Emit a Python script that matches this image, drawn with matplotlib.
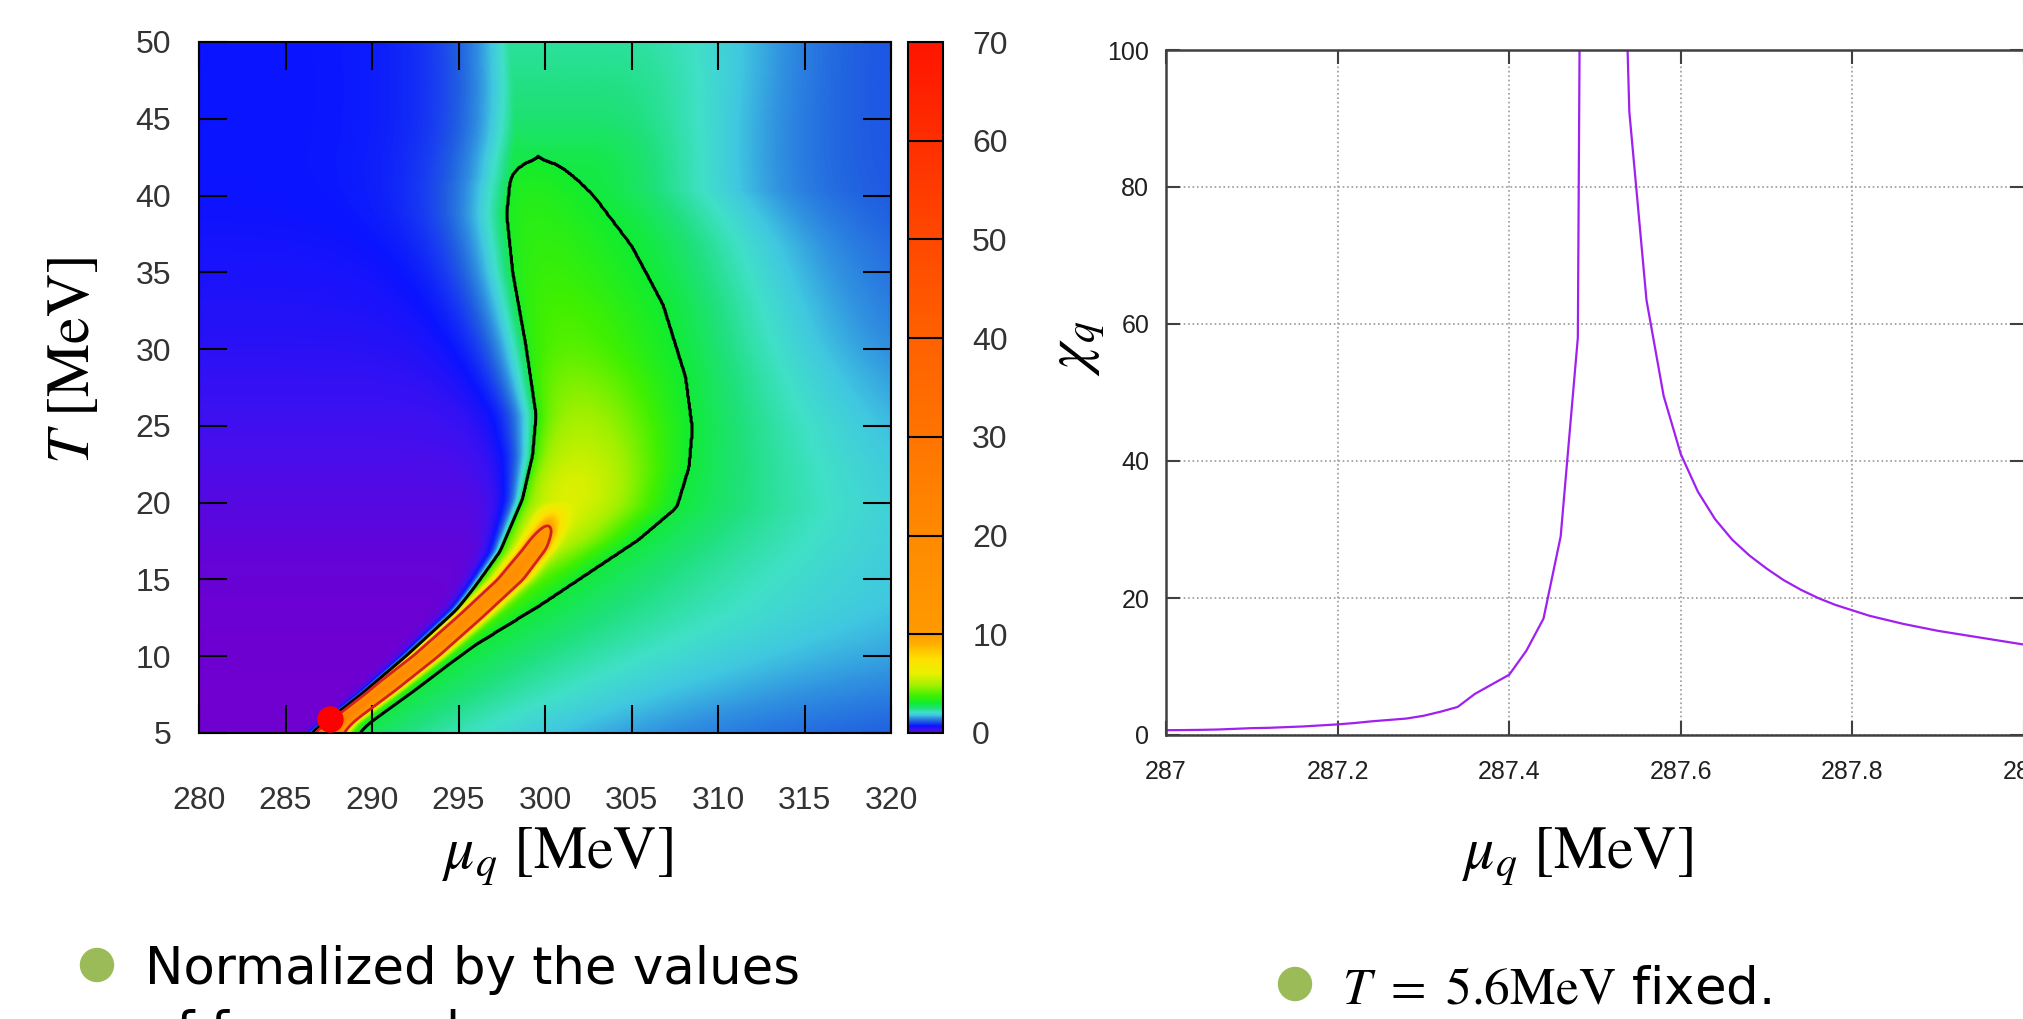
import numpy as np
import matplotlib
matplotlib.use('Agg')
import matplotlib.pyplot as plt
from matplotlib.colors import LinearSegmentedColormap, Normalize
from matplotlib.patches import Ellipse

plt.rcParams['mathtext.fontset'] = 'stix'
plt.rcParams['font.family'] = ['DejaVu Sans']

W, H = 2023, 1019

# ---------------- left panel data ----------------
# black contour (chi = 3 region): left and right boundary, mu vs T
left_edge_T = [5.0, 5.8, 7.5, 10.0, 13.0, 16.8, 20.2, 23.1, 25.7, 30.3, 35.0, 38.8, 40.9, 41.5, 42.0, 42.3, 42.4, 44.0, 47.0, 50.0]
left_edge_mu = [286.8, 287.7, 289.6, 292.1, 295.0, 297.4, 298.7, 299.3, 299.5, 298.9, 298.15, 297.8, 297.98, 298.2, 298.7, 299.2, 299.65, 299.2, 298.6, 298.0]
right_edge_T = [5.0, 9.6, 13.4, 17.6, 19.7, 22.3, 24.8, 28.2, 32.9, 36.7, 40.0, 41.0, 41.9, 42.2, 42.4, 44.0, 47.0, 50.0]
right_edge_mu = [288.5, 294.3, 299.8, 305.4, 307.6, 308.3, 308.5, 308.1, 306.8, 305.0, 302.8, 301.9, 300.9, 300.3, 299.65, 299.2, 298.6, 298.0]
inside_level = 3.05
contour_level = 2.97

# cyan-green plateau around and above the tip of the contour
plateau_left_T = [5, 38, 40, 44, 47, 50]
plateau_left_mu = [320, 320, 298.0, 298.3, 298.2, 297.9]
plateau_right_T = [5, 38, 40, 42.4, 45, 50]
plateau_right_mu = [280, 280, 302.5, 302.3, 302.8, 303.5]

# value just outside the black contour
edge_T = [5, 38, 40, 42.4, 45, 50]
edge_val = [2.965, 2.965, 2.92, 2.85, 2.6, 2.35]

# broad hump inside the black contour
hump_T = [5, 10, 15, 18, 21, 25, 30, 35, 40, 42.4, 50]
hump_val = [0.5, 0.8, 1.4, 2.6, 2.8, 1.9, 1.0, 0.6, 0.3, 0.0, 0.0]

# narrow orange ridge (red contour)
ridge_T = [5.0, 5.6, 6.0, 7.8, 10.0, 12.5, 15.0, 17.0, 18.4, 20.0]
ridge_mu = [287.4, 287.9, 288.4, 290.6, 293.1, 295.6, 298.0, 299.4, 300.1, 300.6]
ridge_h = [30, 25, 20, 17, 15, 14, 13, 9.5, 4.6, 0.0]
ridge_w = 0.8

# background levels and decay widths
bgL_T = [5, 15, 20, 25, 30, 35, 40, 50]
bgL_val = [0.0, 0.05, 0.2, 0.35, 0.5, 0.6, 0.7, 0.7]
wl_T = [5, 10, 15, 20, 25, 30, 40, 50]
wl_val = [0.15, 0.2, 0.3, 0.6, 1.2, 1.8, 2.5, 2.5]
bgR_T = [5, 10, 15, 20, 30, 40, 50]
bgR_val = [1.0, 1.3, 1.4, 1.3, 1.1, 1.1, 1.1]
wr_T = [5, 10, 15, 20, 30, 40, 50]
wr_val = [12, 17, 15, 12, 8, 9, 10]
q_T = [5, 25, 35, 42, 50]
q_val = [1.0, 1.0, 1.4, 1.9, 2.4]

# critical point
cep_mu, cep_T = 287.6, 5.9

# ---------------- right panel data ----------------
mu_cut = [287.00, 287.02, 287.04, 287.06, 287.08, 287.10, 287.12, 287.14, 287.16, 287.18,
          287.20, 287.22, 287.24, 287.26, 287.28, 287.30, 287.32, 287.34, 287.36, 287.38,
          287.40, 287.42, 287.44, 287.46, 287.48, 287.50, 287.52, 287.54, 287.56, 287.58,
          287.60, 287.62, 287.64, 287.66, 287.68, 287.70, 287.72, 287.74, 287.76, 287.78,
          287.80, 287.82, 287.84, 287.86, 287.88, 287.90, 287.92, 287.94, 287.96, 287.98, 288.00]
chi_cut = [0.7, 0.72, 0.75, 0.8, 0.9, 1.0, 1.05, 1.15, 1.25, 1.4,
           1.55, 1.75, 2.0, 2.2, 2.4, 2.8, 3.4, 4.1, 6.0, 7.4,
           8.8, 12.3, 17.0, 29.0, 58.0, 480.0, 180.0, 91.0, 63.5, 49.5,
           41.0, 35.5, 31.5, 28.5, 26.2, 24.3, 22.6, 21.2, 20.0, 19.0,
           18.2, 17.4, 16.8, 16.2, 15.7, 15.2, 14.8, 14.4, 14.0, 13.6, 13.2]

# ---------------- build the field ----------------
mu_g = np.linspace(280, 320, 801)
T_g = np.linspace(5, 50, 676)
MU, TT = np.meshgrid(mu_g, T_g)


def row(tn, vals, k=6):
    r = np.interp(T_g, tn, vals)
    if k > 0:
        p = np.pad(r, k, mode='edge')
        r = np.convolve(p, np.ones(2 * k + 1) / (2 * k + 1), mode='same')[k:-k]
    return r[:, None]


bl = row(left_edge_T, left_edge_mu, 3)
br = row(right_edge_T, right_edge_mu, 3)
pl = np.minimum(bl, row(plateau_left_T, plateau_left_mu, 8))
pr = np.maximum(br, row(plateau_right_T, plateau_right_mu, 8))
ve = row(edge_T, edge_val, 10)
hump = row(hump_T, hump_val, 12)
rc = row(ridge_T, ridge_mu, 3)
hp = row(ridge_T, ridge_h, 3)
bgL = row(bgL_T, bgL_val, 40)
wl = row(wl_T, wl_val, 30)
bgR = row(bgR_T, bgR_val, 50)
wr = row(wr_T, wr_val, 60)
q = row(q_T, q_val, 60)

span = np.maximum(br - bl, 1e-6)
s = np.clip((MU - bl) / span, 0, 1)
a, b = 0.6, 1.4
s0 = a / (a + b)
f = (s / s0) ** a * ((1 - s) / (1 - s0)) ** b
peak = hp * np.exp(-((MU - rc) / ridge_w) ** 2)

inside = inside_level + hump * f + peak
plateau = ve + peak
tail = bgR + (ve - bgR) * np.exp(-(np.maximum(MU - pr, 0) / wr) ** q) + peak
Zb = ve + hp * np.exp(-((pl - rc) / ridge_w) ** 2)
Zl = bgL + (Zb - bgL) * np.exp(np.minimum(MU - pl, 0) / wl)

Z = np.where(MU < pl, Zl,
             np.where(MU < bl, plateau,
                      np.where(MU < br, inside,
                               np.where(MU < pr, plateau, tail))))

# colour map (gnuplot-like palette)
nodes = [(0.0, '#7000d0'), (0.35, '#4010f0'), (0.7, '#0a14ff'), (1.0, '#1a40f0'),
         (1.2, '#2060e0'), (1.5, '#3090e0'), (1.8, '#40c8e0'), (2.1, '#40e0c8'),
         (2.5, '#20e080'), (3.0, '#10ec30'), (3.8, '#40f000'), (4.8, '#a0f000'),
         (6.0, '#e8f000'), (7.5, '#ffe000'), (9.0, '#ffb000'), (10, '#ff9a00'),
         (20, '#ff8a00'), (30, '#ff7400'), (40, '#ff6000'), (50, '#ff4800'),
         (60, '#ff2e00'), (70, '#ff1400')]
cmap = LinearSegmentedColormap.from_list('chi', [(p / 70, c) for p, c in nodes], N=4096)
norm = Normalize(0, 70)

fig = plt.figure(figsize=(W / 100, H / 100), dpi=100)

# ---------------- left panel ----------------
ax = fig.add_axes([199 / W, 1 - 733 / H, 692 / W, 691 / H])
im = ax.imshow(Z, extent=[280, 320, 5, 50], origin='lower', aspect='auto',
               cmap=cmap, norm=norm, interpolation='bilinear')
ax.contour(mu_g, T_g, Z, levels=[contour_level], colors='k', linewidths=2.2)
ax.contour(mu_g, T_g, Z, levels=[10], colors='#d42020', linewidths=2.0)
ax.plot(cep_mu, cep_T, 'o', color='#ff0000', ms=19, mec='none', clip_on=False, zorder=5)
ax.set_xlim(280, 320)
ax.set_ylim(5, 50)
ax.set_xticks(np.arange(280, 321, 5))
ax.set_yticks(np.arange(5, 51, 5))
ax.tick_params(direction='in', length=20, width=1.5, top=True, right=True,
               labelsize=23, labelcolor='#333333')
ax.tick_params(axis='x', pad=38)
ax.tick_params(axis='y', pad=20)
for lab in ax.get_xticklabels() + ax.get_yticklabels():
    lab.set_fontfamily('Liberation Sans')
for sp in ax.spines.values():
    sp.set_linewidth(1.5)

cax = fig.add_axes([908 / W, 1 - 733 / H, 35 / W, 691 / H])
cb = fig.colorbar(im, cax=cax, ticks=np.arange(0, 71, 10))
cb.outline.set_linewidth(1.5)
cax.tick_params(length=0, labelsize=23, pad=21, labelcolor='#333333')
for lab in cax.get_yticklabels():
    lab.set_fontfamily('Liberation Sans')
for t in range(10, 70, 10):
    cax.axhline(t, color='k', lw=1.5)

fig.text(557 / W, 1 - 857 / H, r'$\mu_q\ [\mathrm{MeV}]$', fontsize=43, ha='center', va='center')
fig.text(72 / W, 1 - 361 / H, r'$T\ [\mathrm{MeV}]$', fontsize=43, ha='center', va='center', rotation=90)

# ---------------- right panel ----------------
ax2 = fig.add_axes([1166 / W, 1 - 735 / H, 858 / W, 685 / H])
ax2.plot(mu_cut, chi_cut, color='#a020f0', lw=1.6)
ax2.set_xlim(287, 288)
ax2.set_ylim(0, 100)
ax2.set_xticks([287, 287.2, 287.4, 287.6, 287.8, 288])
ax2.set_xticklabels(['287', '287.2', '287.4', '287.6', '287.8', '288'])
ax2.set_yticks(np.arange(0, 101, 20))
ax2.grid(True, ls=':', color='#9a9a9a', lw=1.2)
ax2.tick_params(direction='in', length=10, width=1.5, top=True, right=True,
                labelsize=18, labelcolor='#202020', color='#404040')
ax2.tick_params(axis='x', pad=18)
ax2.tick_params(axis='y', pad=12)
for lab in ax2.get_xticklabels() + ax2.get_yticklabels():
    lab.set_fontfamily('Liberation Sans')
for sp in ax2.spines.values():
    sp.set_linewidth(1.8)
    sp.set_color('#404040')

fig.text(1577 / W, 1 - 857 / H, r'$\mu_q\ [\mathrm{MeV}]$', fontsize=43, ha='center', va='center')
fig.text(1077 / W, 1 - 348 / H, r'$\chi_q$', fontsize=43, ha='center', va='center', rotation=90)

# ---------------- bullet texts ----------------
green = '#9bbb59'
fig.add_artist(Ellipse((97 / W, 1 - 965 / H), 33 / W, 33 / H, transform=fig.transFigure,
                       color=green))
fig.text(145 / W, 1 - 984 / H, 'Normalized by the values', fontsize=37, va='baseline')
fig.text(145 / W, 1 - 1048 / H, 'of free quark gas', fontsize=37, va='baseline')

fig.add_artist(Ellipse((1295 / W, 1 - 984 / H), 33 / W, 33 / H, transform=fig.transFigure,
                       color=green))
fig.text(1342 / W, 1 - 1003 / H, r'$T\ =\ 5.6\mathrm{MeV}$ fixed.', fontsize=37, va='baseline')

fig.savefig('out.png', dpi=100)
